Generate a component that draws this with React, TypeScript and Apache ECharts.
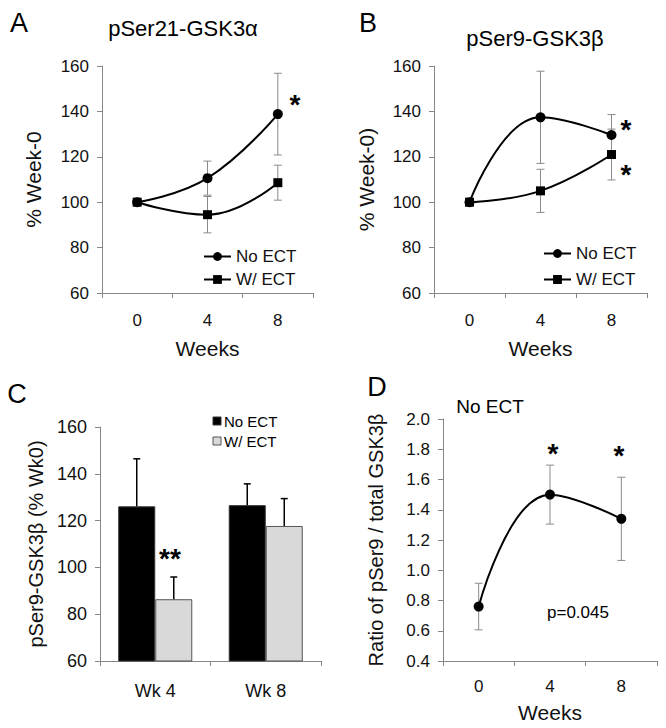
import React, { useEffect, useRef } from 'react';
import * as echarts from 'echarts';

// ---------- data ----------
const weeks = ['0', '4', '8'];
const aNoEct = [100, 110.6, 138.8];
const aNoEctErr = [0, 7.5, 18];
const aWEct = [100, 94.5, 108.6];
const aWEctErr = [0, 8, 7.7];

const bNoEct = [100, 137.4, 129.6];
const bNoEctErr = [0, 20.3, 9];
const bWEct = [100, 105.0, 121.0];
const bWEctErr = [0, 9.5, 11.2];

const cCats = ['Wk 4', 'Wk 8'];
const cSeriesNames = ['No ECT', 'W/ ECT'];
const cNoEct = [126.1, 126.6];
const cNoEctErr = [20.3, 9.1];
const cWEct = [86.4, 117.7];
const cWEctErr = [9.5, 11.7];

const dRatio = [0.76, 1.5, 1.34];
const dErr = [0.154, 0.195, 0.275];

const pctAxis = { min: 60, max: 160, interval: 20 };
const ratioAxis = { min: 0.4, max: 2.0, interval: 0.2 };

// ---------- style ----------
const FONT = '"Liberation Sans", Arial, Helvetica, sans-serif';
const AXIS_GRAY = '#868686';
const TXT = '#111';
const BAR_FRAC = 1 - 0.33;
const C_FILLS = ['#000', '#d9d9d9'];
const C_BORDERS = ['#333', '#555'];

function txt(text: string, x: number, y: number, size: number, bold = false, align = 'center') {
  return {
    type: 'text',
    x,
    y,
    style: {
      text,
      fill: '#000',
      fontSize: size,
      fontFamily: FONT,
      fontWeight: bold ? 'bold' : 'normal',
      align,
      verticalAlign: 'middle',
    },
  };
}

function errorBars(
  vals: number[],
  errs: number[],
  o: { color: string; width: number; cap: number; upOnly?: boolean; side?: number }
) {
  const data: number[][] = [];
  vals.forEach((v, i) => {
    if (errs[i] > 0) data.push([i, v, errs[i]]);
  });
  return {
    type: 'custom',
    silent: true,
    z: o.side ? 5 : 1,
    data,
    renderItem: (params: any, api: any) => {
      const i = api.value(0);
      const v = api.value(1);
      const e = api.value(2);
      const band = api.size([1, 0])[0];
      const dx = o.side ? (o.side * band * BAR_FRAC) / 4 : 0;
      const c = api.coord([i, v]);
      const hi = api.coord([i, v + e]);
      const lo = api.coord([i, o.upOnly ? v : v - e]);
      const x = c[0] + dx;
      const style = { stroke: o.color, lineWidth: o.width, fill: 'none' };
      const children: any[] = [
        { type: 'line', shape: { x1: x, y1: hi[1], x2: x, y2: lo[1] }, style },
        { type: 'line', shape: { x1: x - o.cap, y1: hi[1], x2: x + o.cap, y2: hi[1] }, style },
      ];
      if (!o.upOnly) {
        children.push({ type: 'line', shape: { x1: x - o.cap, y1: lo[1], x2: x + o.cap, y2: lo[1] }, style });
      }
      return { type: 'group', children };
    },
  };
}

function catAxis(data: string[], labelSize: number, margin: number, name?: string, nameGap?: number) {
  return {
    type: 'category',
    data,
    boundaryGap: true,
    name: name || '',
    nameLocation: 'middle',
    nameGap: nameGap || 0,
    nameTextStyle: { fontSize: 21, color: TXT, fontFamily: FONT },
    axisLine: { lineStyle: { color: AXIS_GRAY, width: 1 } },
    axisTick: { show: true, length: 5, lineStyle: { color: AXIS_GRAY } },
    axisLabel: { fontSize: labelSize, color: TXT, margin, fontFamily: FONT },
    splitLine: { show: false },
  };
}

function valAxis(
  range: { min: number; max: number; interval: number },
  name: string,
  nameGap: number,
  labelSize: number,
  nameSize: number,
  digits = 0
) {
  return {
    type: 'value',
    min: range.min,
    max: range.max,
    interval: range.interval,
    name,
    nameLocation: 'middle',
    nameRotate: 90,
    nameGap,
    nameTextStyle: { fontSize: nameSize, color: TXT, fontFamily: FONT },
    axisLine: { show: true, lineStyle: { color: AXIS_GRAY, width: 1 } },
    axisTick: { show: true, length: 5, lineStyle: { color: AXIS_GRAY } },
    axisLabel: {
      fontSize: labelSize,
      color: TXT,
      margin: 13,
      fontFamily: FONT,
      formatter: (v: number) => v.toFixed(digits),
    },
    splitLine: { show: false },
  };
}

function lineSeries(name: string, data: number[], symbol: string, size: number) {
  return {
    name,
    type: 'line',
    data,
    smooth: 0.45,
    symbol,
    symbolSize: size,
    z: 3,
    lineStyle: { color: '#000', width: 2 },
    itemStyle: { color: '#000' },
  };
}

function lineLegend(left: number, top: number, gap: number) {
  return {
    orient: 'vertical',
    left,
    top,
    itemWidth: 27,
    itemHeight: 11,
    itemGap: gap,
    selectedMode: false,
    textStyle: { fontSize: 17, color: TXT, fontFamily: FONT },
    data: ['No ECT', 'W/ ECT'],
  };
}

const optA = {
  animation: false,
  textStyle: { fontFamily: FONT },
  grid: { left: 102, top: 66, width: 211, height: 232 },
  xAxis: catAxis(weeks, 17, 19, 'Weeks', 45),
  yAxis: valAxis(pctAxis, '% Week-0', 58, 17, 21),
  legend: lineLegend(198, 243, 6),
  series: [
    errorBars(aNoEct, aNoEctErr, { color: '#8a8a8a', width: 1, cap: 4 }),
    errorBars(aWEct, aWEctErr, { color: '#8a8a8a', width: 1, cap: 4 }),
    lineSeries('No ECT', aNoEct, 'circle', 10),
    lineSeries('W/ ECT', aWEct, 'rect', 9),
  ],
  graphic: [
    txt('A', 19, 23, 27),
    txt('pSer21-GSK3\u03b1', 183, 28, 22),
    txt('*', 295, 104, 28, true),
  ],
};

const optB = {
  animation: false,
  textStyle: { fontFamily: FONT },
  grid: { left: 101, top: 66, width: 213, height: 232 },
  xAxis: catAxis(weeks, 17, 19, 'Weeks', 45),
  yAxis: valAxis(pctAxis, '% Week-0)', 57, 17, 21),
  legend: lineLegend(205, 240, 9),
  series: [
    errorBars(bNoEct, bNoEctErr, { color: '#8a8a8a', width: 1, cap: 4 }),
    errorBars(bWEct, bWEctErr, { color: '#8a8a8a', width: 1, cap: 4 }),
    lineSeries('No ECT', bNoEct, 'circle', 10),
    lineSeries('W/ ECT', bWEct, 'rect', 9),
  ],
  graphic: [
    txt('B', 35, 23, 27),
    txt('pSer9-GSK3\u03b2', 202, 38, 22),
    txt('*', 293, 129, 28, true),
    txt('*', 293, 174, 28, true),
  ],
};

const cLegendGraphics: any[] = [];
cSeriesNames.forEach((n, k) => {
  const cy = 57 + k * 20;
  cLegendGraphics.push({
    type: 'rect',
    shape: { x: 213, y: cy - 4, width: 8, height: 8 },
    style: { fill: C_FILLS[k], stroke: C_BORDERS[k], lineWidth: 1 },
  });
  cLegendGraphics.push(txt(n, 224, cy, 15, false, 'left'));
});

const optC = {
  animation: false,
  textStyle: { fontFamily: FONT },
  grid: { left: 100, top: 63, width: 221, height: 234 },
  xAxis: catAxis(cCats, 18, 21),
  yAxis: valAxis(pctAxis, 'pSer9-GSK3\u03b2 (% Wk0)', 50, 18, 20),
  series: [
    {
      name: cSeriesNames[0],
      type: 'bar',
      data: cNoEct,
      barGap: '0%',
      barCategoryGap: '33%',
      itemStyle: { color: C_FILLS[0], borderColor: C_BORDERS[0], borderWidth: 1 },
    },
    {
      name: cSeriesNames[1],
      type: 'bar',
      data: cWEct,
      barGap: '0%',
      barCategoryGap: '33%',
      itemStyle: { color: C_FILLS[1], borderColor: C_BORDERS[1], borderWidth: 1 },
    },
    errorBars(cNoEct, cNoEctErr, { color: '#000', width: 1.5, cap: 3.5, upOnly: true, side: -1 }),
    errorBars(cWEct, cWEctErr, { color: '#000', width: 1.5, cap: 3.5, upOnly: true, side: 1 }),
  ],
  graphic: [txt('C', 17, 30, 27), txt('**', 170, 194, 28, true), ...cLegendGraphics],
};

const optD = {
  animation: false,
  textStyle: { fontFamily: FONT },
  grid: { left: 110, top: 55, width: 214, height: 243 },
  xAxis: catAxis(weeks, 17, 17, 'Weeks', 41),
  yAxis: valAxis(ratioAxis, 'Ratio of pSer9 / total GSK3\u03b2', 57, 17, 20, 1),
  series: [
    errorBars(dRatio, dErr, { color: '#8a8a8a', width: 1, cap: 4 }),
    lineSeries('Ratio', dRatio, 'circle', 10),
  ],
  graphic: [
    txt('D', 44, 23, 27),
    txt('No ECT', 157, 42, 19),
    txt('p=0.045', 245, 248, 17),
    txt('*', 220, 89, 28, true),
    txt('*', 286, 91, 28, true),
  ],
};

function Panel(props: { option: any; left: number; top: number }) {
  const ref = useRef<HTMLDivElement>(null);
  useEffect(() => {
    if (!ref.current) return;
    const chart = echarts.init(ref.current, undefined, { renderer: 'svg' });
    chart.setOption(props.option);
    return () => chart.dispose();
  }, [props.option]);
  return (
    <div
      ref={ref}
      style={{ position: 'absolute', left: props.left, top: props.top, width: 333, height: 364 }}
    />
  );
}

export default function App() {
  return (
    <div style={{ position: 'absolute', left: 0, top: 0, width: 666, height: 728, background: '#fff' }}>
      <Panel option={optA} left={0} top={0} />
      <Panel option={optB} left={333} top={0} />
      <Panel option={optC} left={0} top={364} />
      <Panel option={optD} left={333} top={364} />
    </div>
  );
}
